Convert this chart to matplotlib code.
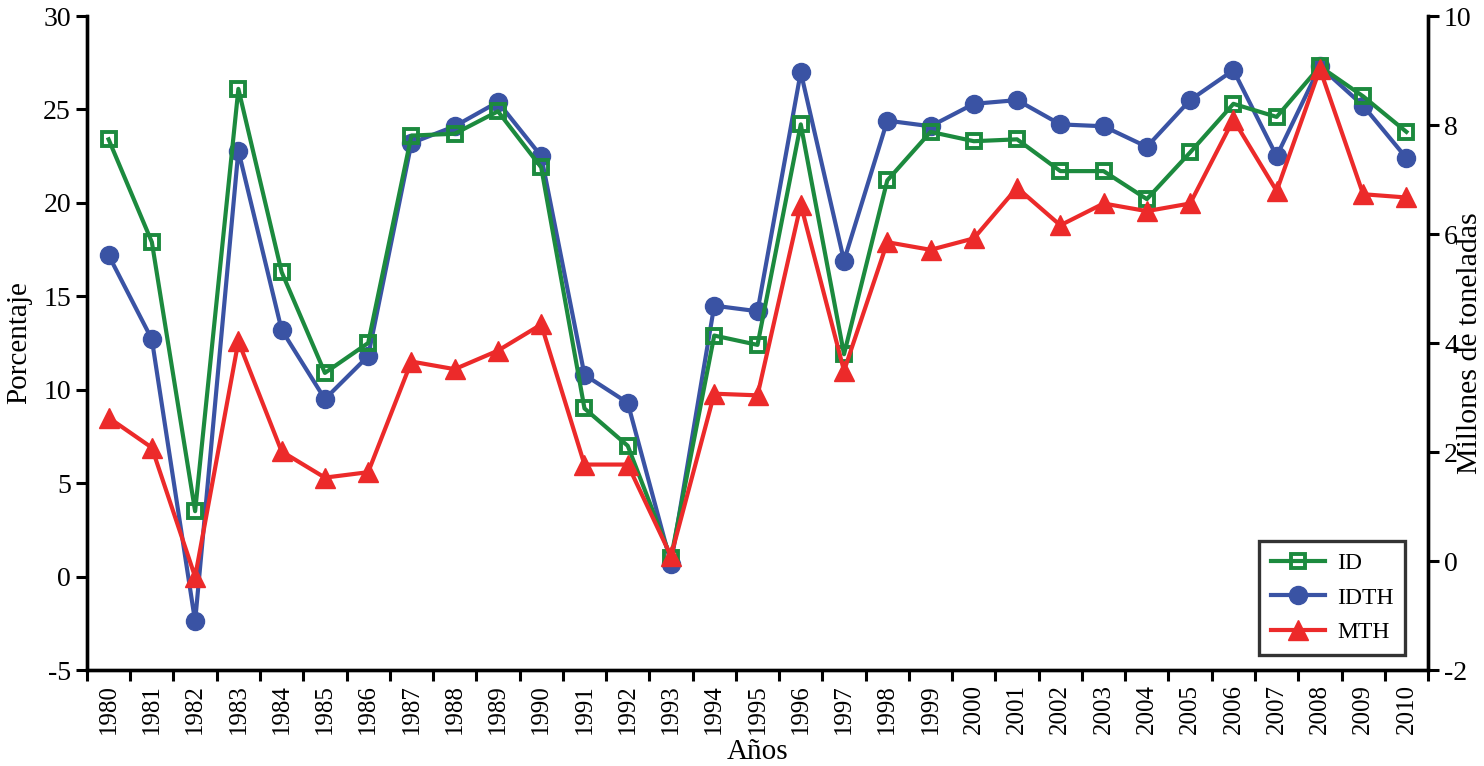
import numpy as np
import matplotlib.pyplot as plt

# --- data ---
years = [str(y) for y in range(1980, 2011)]

# ID (%), left axis
id_vals = [23.4, 17.9, 3.5, 26.1, 16.3, 10.9, 12.5, 23.6, 23.7, 24.9,
           21.9, 9.0, 7.0, 1.0, 12.9, 12.4, 24.2, 11.9, 21.2, 23.8,
           23.3, 23.4, 21.7, 21.7, 20.2, 22.7, 25.3, 24.6, 27.3, 25.7,
           23.8]

# IDTH (%), left axis
idth_vals = [17.2, 12.7, -2.4, 22.8, 13.2, 9.5, 11.8, 23.2, 24.1, 25.4,
             22.5, 10.8, 9.3, 0.7, 14.5, 14.2, 27.0, 16.9, 24.4, 24.1,
             25.3, 25.5, 24.2, 24.1, 23.0, 25.5, 27.1, 22.5, 27.3, 25.2,
             22.4]

# MTH (millones de toneladas), right axis
mth_vals = [2.63, 2.08, -0.29, 4.03, 2.01, 1.53, 1.63, 3.66, 3.52, 3.86,
            4.34, 1.77, 1.77, 0.09, 3.07, 3.04, 6.54, 3.49, 5.85, 5.71,
            5.92, 6.85, 6.16, 6.56, 6.42, 6.56, 8.10, 6.79, 9.03, 6.73,
            6.67]

green = '#1c8a3e'
blue = '#3a53a4'
red = '#ec2a2a'

plt.rcParams['font.family'] = 'serif'
plt.rcParams['font.serif'] = ['Liberation Serif']
plt.rcParams['axes.unicode_minus'] = False

fig = plt.figure(figsize=(14.84, 7.66), dpi=100)
ax = fig.add_axes([0.0586, 0.1253, 0.9037, 0.8538])
ax2 = ax.twinx()

x = np.arange(len(years))

l1, = ax.plot(x, id_vals, color=green, lw=3, marker='s', ms=10,
              mfc='none', mec=green, mew=2.8, label='ID', zorder=3)
l2, = ax.plot(x, idth_vals, color=blue, lw=3, marker='o', ms=13,
              mfc=blue, mec=blue, label='IDTH', zorder=2)
l3, = ax2.plot(x, mth_vals, color=red, lw=3, marker='^', ms=15,
               mfc=red, mec=red, label='MTH')

ax.set_xlim(-0.5, len(years) - 0.5)
ax.set_ylim(-5, 30)
ax2.set_ylim(-2, 10)
ax.set_yticks(np.arange(-5, 31, 5))
ax2.set_yticks(np.arange(-2, 11, 2))

# year labels centred, tick marks between categories
ax.set_xticks(x)
ax.set_xticklabels(years, rotation=90, fontsize=18)
ax.set_xticks(np.arange(-0.5, len(years), 1), minor=True)
ax.tick_params(axis='x', which='major', length=0, pad=10)
ax.tick_params(axis='x', which='minor', length=8, width=2.2, direction='out')
ax.tick_params(axis='y', labelsize=20, length=8, width=2.2, direction='out')
ax2.tick_params(axis='y', labelsize=20, length=8, width=2.2, direction='out')

for a in (ax, ax2):
    a.spines['top'].set_visible(False)
    for s in ('left', 'right', 'bottom'):
        a.spines[s].set_linewidth(2.4)

ax.set_xlabel('Años', fontsize=21, labelpad=4)
ax.set_ylabel('Porcentaje', fontsize=21, labelpad=8)
ax2.set_ylabel('Millones de toneladas', fontsize=21.5,
               rotation=90, ha='center', va='center')
ax2.yaxis.set_label_coords(1.031, 0.5)

leg = ax2.legend(handles=[l1, l2, l3], loc='lower right',
                 bbox_to_anchor=(0.983, 0.023), borderaxespad=0,
                 fontsize=17, frameon=True, fancybox=False,
                 edgecolor='black', handlelength=2.3, handletextpad=0.5,
                 borderpad=0.5, labelspacing=0.55)
leg.get_frame().set_linewidth(2.4)

fig.savefig('out.png', dpi=100)
